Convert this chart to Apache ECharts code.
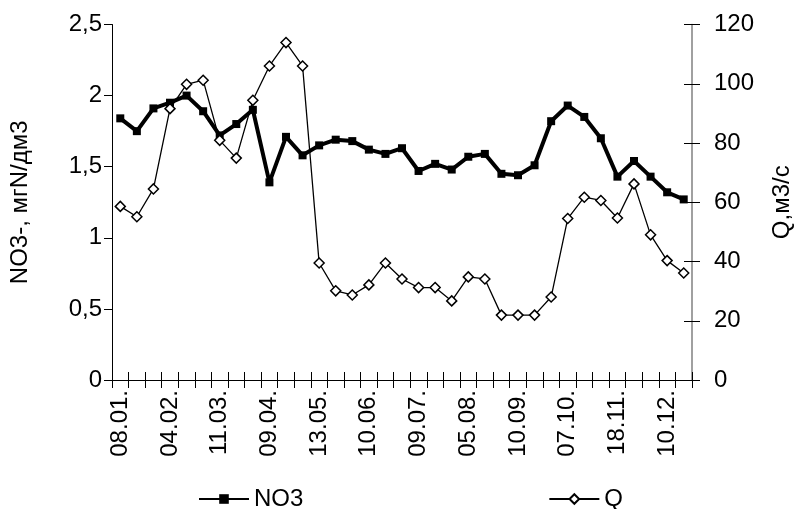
<!DOCTYPE html>
<html>
<head>
<meta charset="utf-8">
<script src="https://cdn.jsdelivr.net/npm/echarts@6/dist/echarts.min.js"></script>
<style>html,body{margin:0;padding:0;background:#fff}#c{width:802px;height:509px}</style>
</head>
<body>
<div id="c"></div>
<script>
const categories = ['08.01.','','','04.02.','','','11.03.','','','09.04.','','','13.05.','','','10.06.','','','09.07.','','','05.08.','','','10.09.','','','07.10.','','','18.11.','','','10.12.',''];
const no3 = [1.84,1.75,1.91,1.95,2.00,1.89,1.72,1.80,1.90,1.39,1.71,1.58,1.65,1.69,1.68,1.62,1.59,1.63,1.47,1.52,1.48,1.57,1.59,1.45,1.44,1.51,1.82,1.93,1.85,1.70,1.43,1.54,1.43,1.32,1.27];
const q = [58.6,55.1,64.5,91.6,99.8,101.2,80.9,74.9,94.4,106,113.9,106,39.5,30.1,28.7,32.1,39.5,34.1,31.2,31.2,26.7,34.8,34.1,21.9,21.9,21.9,28,54.5,61.7,60.6,54.7,66.2,49,40.3,36.1];
const leftName = 'NO3-, мгN/дм3';
const rightName = 'Q,м3/с';

const FONT = '"Liberation Sans", Arial, sans-serif';
const FS = 24;
const chart = echarts.init(document.getElementById('c'), null, {renderer: 'canvas'});
chart.setOption({
  animation: false,
  backgroundColor: '#fff',
  textStyle: {fontFamily: FONT, color: '#000'},
  grid: {left: 109, right: 100, top: 24.5, bottom: 129},
  legend: {
    left: 193, top: 482, itemGap: 245, itemWidth: 50, itemHeight: 12,
    textStyle: {fontFamily: FONT, fontSize: FS, color: '#000'},
    data: ['NO3', 'Q']
  },
  xAxis: [{
    type: 'category', data: categories, boundaryGap: true,
    axisLine: {lineStyle: {color: '#000', width: 1}},
    axisTick: {show: true, interval: 0, length: 8, lineStyle: {color: '#000'}},
    axisLabel: {interval: 0, rotate: 90, fontSize: FS, fontFamily: FONT, color: '#000', margin: 10},
    splitLine: {show: false}
  }, {
    type: 'category', data: categories, boundaryGap: true, position: 'bottom',
    axisLine: {show: false},
    axisTick: {show: true, inside: true, interval: 0, length: 8, lineStyle: {color: '#000'}},
    axisLabel: {show: false}, splitLine: {show: false}
  }],
  yAxis: [{
    type: 'value', min: 0, max: 2.5, interval: 0.5, position: 'left',
    name: leftName, nameLocation: 'middle', nameRotate: 90, nameGap: 80,
    nameTextStyle: {fontFamily: FONT, fontSize: FS, color: '#000'},
    axisLine: {show: true, lineStyle: {color: '#000'}},
    axisTick: {show: true, length: 8, lineStyle: {color: '#000'}},
    axisLabel: {fontSize: FS, fontFamily: FONT, color: '#000', margin: 10,
      formatter: v => String(v).replace('.', ',')},
    splitLine: {show: false}
  }, {
    type: 'value', min: 0, max: 120, interval: 20, position: 'right',
    name: rightName, nameLocation: 'middle', nameRotate: 90, nameGap: 78,
    nameTextStyle: {fontFamily: FONT, fontSize: FS, color: '#000'},
    axisLine: {show: true, lineStyle: {color: '#808080', width: 1.5}},
    axisTick: {show: true, length: 8, lineStyle: {color: '#000'}},
    axisLabel: {fontSize: FS, fontFamily: FONT, color: '#000', margin: 22},
    splitLine: {show: false}
  }, {
    type: 'value', min: 0, max: 120, interval: 20, position: 'right',
    axisLine: {show: false},
    axisTick: {show: true, inside: true, length: 8, lineStyle: {color: '#000'}},
    axisLabel: {show: false}, splitLine: {show: false}
  }],
  series: [{
    name: 'NO3', type: 'line', data: no3, xAxisIndex: 0, yAxisIndex: 0,
    symbol: 'rect', symbolSize: 8, showAllSymbol: true,
    lineStyle: {color: '#000', width: 4},
    itemStyle: {color: '#000', borderColor: '#000', borderWidth: 0},
    z: 3
  }, {
    name: 'Q', type: 'line', data: q, xAxisIndex: 0, yAxisIndex: 1,
    symbol: 'diamond', symbolSize: 10, showAllSymbol: true,
    lineStyle: {color: '#000', width: 1.3},
    itemStyle: {color: '#fff', borderColor: '#000', borderWidth: 1.5},
    z: 4
  }]
});
</script>
</body>
</html>
